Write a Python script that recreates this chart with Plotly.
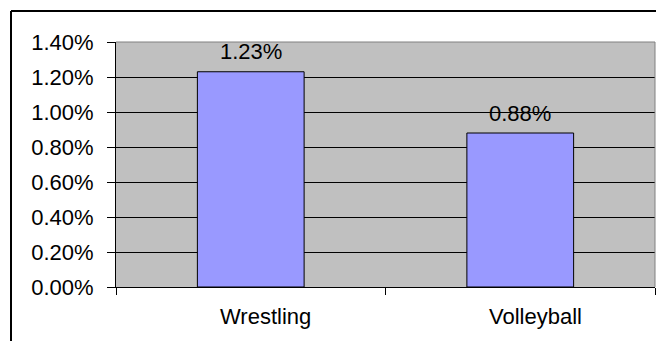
import plotly.graph_objects as go

# Injury rates by sport
sports = ["Wrestling", "Volleyball"]
rates = [0.0123, 0.0088]
rate_labels = ["1.23%", "0.88%"]
y_ticks = [0.0, 0.002, 0.004, 0.006, 0.008, 0.010, 0.012, 0.014]
y_tick_text = ["0.00%", "0.20%", "0.40%", "0.60%", "0.80%", "1.00%", "1.20%", "1.40%"]

W, H = 656, 341
ML, MR, MT, MB = 116, 1, 42, 54
PW, PH = W - ML - MR, H - MT - MB

def px_x(p):
    return (p - ML) / PW

def px_y(p):
    return (H - MB - p) / PH

FONT = "Liberation Sans, Arial, sans-serif"
FS = 22

fig = go.Figure()
fig.add_trace(go.Bar(
    x=sports, y=rates,
    marker=dict(color="#9999FF", line=dict(color="#000000", width=1)),
    hoverinfo="skip",
))

# value labels above each bar
for s, v, t in zip(sports, rates, rate_labels):
    fig.add_annotation(x=s, y=v, text=t, showarrow=False, yanchor="middle",
                       yshift=20, font=dict(family=FONT, size=FS, color="#000000"))

# category labels under the axis, set slightly right of the bar centres
for s in sports:
    fig.add_annotation(x=s, y=0, text=s, showarrow=False, yanchor="middle",
                       xshift=15, yshift=-29,
                       font=dict(family=FONT, size=FS, color="#000000"))

shapes = [
    # plot-area frame (top and right edges)
    dict(type="line", xref="paper", yref="paper", x0=0, x1=1, y0=1, y1=1,
         line=dict(color="#808080", width=1)),
    dict(type="line", xref="paper", yref="paper", x0=1, x1=1, y0=0, y1=1,
         line=dict(color="#808080", width=1)),
    # outer chart border (left and top edges)
    dict(type="line", xref="paper", yref="paper", x0=px_x(11), x1=px_x(11),
         y0=px_y(11), y1=px_y(400), line=dict(color="#000000", width=2)),
    dict(type="line", xref="paper", yref="paper", x0=px_x(11), x1=px_x(700),
         y0=px_y(11), y1=px_y(11), line=dict(color="#000000", width=2)),
]

fig.update_layout(
    width=W, height=H,
    margin=dict(l=ML, r=MR, t=MT, b=MB, pad=0),
    paper_bgcolor="#FFFFFF",
    plot_bgcolor="#C0C0C0",
    bargap=0.604,
    showlegend=False,
    shapes=shapes,
    font=dict(family=FONT, size=FS, color="#000000"),
    xaxis=dict(
        type="category",
        showline=True, linecolor="#000000", linewidth=1,
        ticks="outside", ticklen=7, tickcolor="#000000", tickson="boundaries",
        showgrid=False, showticklabels=False,
    ),
    yaxis=dict(
        range=[0, 0.014],
        tickvals=y_ticks, ticktext=y_tick_text,
        showline=True, linecolor="#000000", linewidth=1,
        ticks="outside", ticklen=8, tickcolor="#000000",
        showgrid=True, gridcolor="#000000", gridwidth=1,
        zeroline=False,
        tickfont=dict(family=FONT, size=FS, color="#000000"),
        ticklabelstandoff=9,
    ),
)

fig.write_html("out.html")
